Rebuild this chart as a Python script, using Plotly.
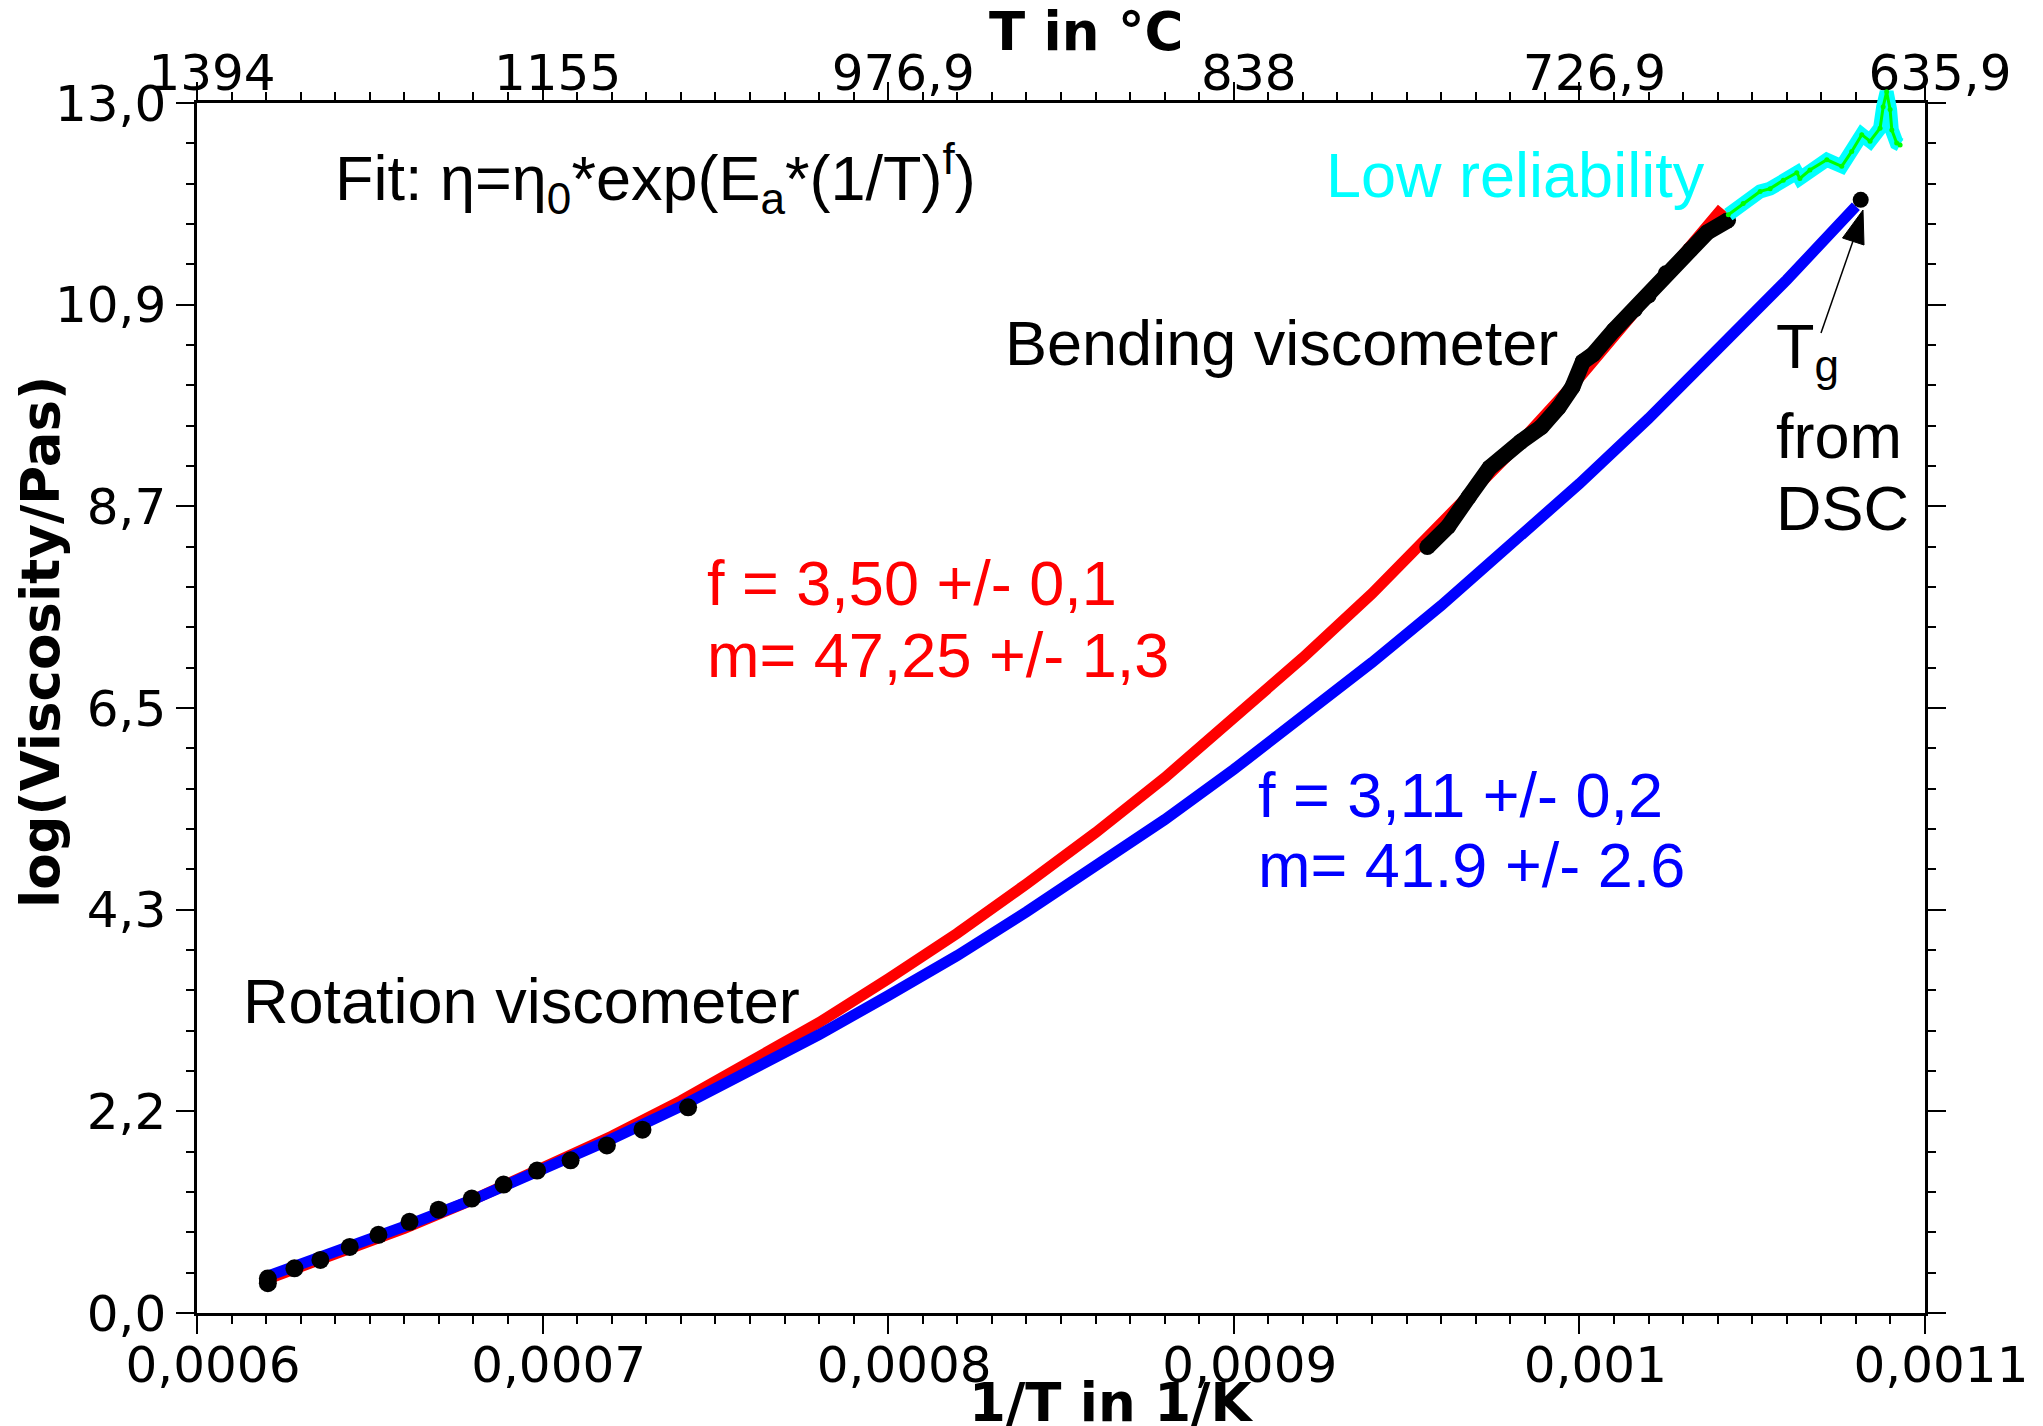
import plotly.graph_objects as go

# ---------------- data ----------------
# Fit curve (f = 3.50) on 1/T
red_x = [0.00062, 0.00064, 0.00066, 0.00068, 0.00070, 0.00072, 0.00074, 0.00076,
         0.00078, 0.00080, 0.00082, 0.00084, 0.00086, 0.00088, 0.00090, 0.00092,
         0.00094, 0.00096, 0.00098, 0.00100, 0.00102, 0.00104, 0.0010413]
red_y = [0.36, 0.63, 0.91, 1.22, 1.55, 1.90, 2.28, 2.69, 3.12, 3.59, 4.08, 4.61,
         5.16, 5.75, 6.38, 7.04, 7.73, 8.47, 9.24, 10.05, 10.91, 11.81, 11.87]

# Fit curve (f = 3.11) on 1/T
blue_x = [0.00062, 0.00064, 0.00066, 0.00068, 0.00070, 0.00072, 0.00074, 0.00076,
          0.00078, 0.00080, 0.00082, 0.00084, 0.00086, 0.00088, 0.00090, 0.00092,
          0.00094, 0.00096, 0.00098, 0.00100, 0.00102, 0.00104, 0.00106, 0.00108]
blue_y = [0.39, 0.65, 0.93, 1.22, 1.54, 1.87, 2.22, 2.59, 2.99, 3.41, 3.84, 4.31,
          4.79, 5.30, 5.84, 6.40, 6.99, 7.60, 8.24, 8.91, 9.61, 10.34, 11.10, 11.89]

# Bending viscometer measurement
bend_x = [0.000956, 0.000962, 0.000968, 0.000974, 0.000983, 0.000989, 0.000994,
          0.000998, 0.001001, 0.001004, 0.001010, 0.001016, 0.001020, 0.001025,
          0.001032, 0.001037, 0.001043]
bend_y = [8.23, 8.45, 8.77, 9.08, 9.36, 9.52, 9.73, 9.95, 10.22, 10.30, 10.56,
          10.78, 10.93, 11.17, 11.42, 11.61, 11.74]

# Continuation of the bending run with low reliability
low_x = [0.0010431, 0.0010474, 0.0010523, 0.0010552, 0.0010590, 0.0010629,
         0.0010638, 0.0010667, 0.0010716, 0.0010759, 0.0010788, 0.0010817,
         0.0010841, 0.0010870, 0.0010879, 0.0010889, 0.0010899, 0.0010904,
         0.0010918, 0.0010928]
low_y = [11.80, 11.92, 12.05, 12.08, 12.17, 12.25, 12.19, 12.28, 12.39, 12.32,
         12.48, 12.66, 12.59, 12.73, 12.96, 13.12, 12.93, 12.71, 12.57, 12.55]

# Rotation viscometer measurement
rot_x = [0.0006205, 0.0006205, 0.0006282, 0.0006357, 0.0006442, 0.0006525,
         0.0006615, 0.0006699, 0.0006795, 0.0006887, 0.0006984, 0.0007081,
         0.0007186, 0.0007289, 0.0007421]
rot_y = [0.37, 0.32, 0.48, 0.57, 0.71, 0.84, 0.98, 1.11, 1.23, 1.38, 1.53, 1.64,
         1.80, 1.97, 2.21]

# Glass transition from DSC
tg_x = [0.0010814]
tg_y = [11.96]

# Axis ticks
x_ticks = [0.0006, 0.0007, 0.0008, 0.0009, 0.0010, 0.0011]
x_labels = ["0,0006", "0,0007", "0,0008", "0,0009", "0,001", "0,0011"]
t_labels = ["1394", "1155", "976,9", "838", "726,9", "635,9"]
y_labels = ["0,0", "2,2", "4,3", "6,5", "8,7", "10,9", "13,0"]

# ---------------- geometry ----------------
W, H = 2043, 1426
PL, PR = 197, 1925          # frame left / right (px)
PB, FRAME_TOP = 1313, 103   # frame bottom / top (px)
PT = 83                     # paper top, leaves headroom for the noisy tail
Y_MAX = 13.0
y_dom_top = (PB - FRAME_TOP) / (PB - PT)

y_ticks = [i * Y_MAX / 6 for i in range(7)]
y_minor = [k * Y_MAX / 30 for k in range(31) if k % 5]
x_minor = [0.0006 + k * 0.00001 for k in range(51) if k % 10]


def px_x(px):
    return (px - PL) / (PR - PL)


def px_y(py):
    return (PB - py) / (PB - PT)


TICKFONT = dict(family="DejaVu Sans", size=50, color="black")
TITLEFONT = dict(family="DejaVu Sans", size=53, color="black", weight="bold")
NOTEFONT = "Liberation Sans"
NOTE_SIZE = 63

fig = go.Figure()

fig.add_trace(go.Scatter(x=red_x, y=red_y, mode="lines",
                         line=dict(color="#ff0000", width=11), hoverinfo="skip"))
fig.add_trace(go.Scatter(x=blue_x, y=blue_y, mode="lines",
                         line=dict(color="#0000ff", width=11), hoverinfo="skip"))
fig.add_trace(go.Scatter(x=low_x, y=low_y, mode="lines", yaxis="y3",
                         line=dict(color="#00ffff", width=14), hoverinfo="skip"))
fig.add_trace(go.Scatter(x=low_x, y=low_y, mode="lines+markers", yaxis="y3",
                         line=dict(color="#00ff00", width=3),
                         marker=dict(color="#00ff00", size=5), hoverinfo="skip"))
fig.add_trace(go.Scatter(x=bend_x, y=bend_y, mode="lines+markers",
                         line=dict(color="black", width=16),
                         marker=dict(color="black", size=16), hoverinfo="skip"))
fig.add_trace(go.Scatter(x=rot_x, y=rot_y, mode="markers",
                         marker=dict(color="black", size=18), hoverinfo="skip"))
fig.add_trace(go.Scatter(x=tg_x, y=tg_y, mode="markers",
                         marker=dict(color="black", size=16), hoverinfo="skip"))
# carrier for the temperature axis on top
fig.add_trace(go.Scatter(x=[], y=[], xaxis="x2", hoverinfo="skip"))


def note(text, px, base, color="black", size=NOTE_SIZE):
    return dict(text=text, x=px_x(px), y=px_y(base - 0.3465 * size),
                xref="paper", yref="paper", xanchor="left", yanchor="middle",
                showarrow=False,
                font=dict(family=NOTEFONT, size=size, color=color))


annotations = [
    note("Fit: η=η<sub>0</sub>*exp(E<sub>a</sub>*(1/T)<sup>f</sup>)", 333, 200),
    note("Low reliability", 1324, 197, color="#00ffff"),
    note("Bending viscometer", 1003, 365),
    note("Rotation viscometer", 241, 1023),
    note("f = 3,50 +/- 0,1", 705, 605, color="#ff0000"),
    note("m= 47,25 +/- 1,3", 705, 677, color="#ff0000"),
    note("f = 3,11 +/- 0,2", 1256, 817, color="#0000ff"),
    note("m= 41.9 +/- 2.6", 1256, 887, color="#0000ff"),
    note("T<sub>g</sub>", 1774, 372),
    note("from", 1774, 458),
    note("DSC", 1774, 530),
    dict(text="1/T in 1/K", x=px_x(1111), y=px_y(1402), xref="paper", yref="paper",
         xanchor="center", yanchor="middle", showarrow=False, font=TITLEFONT),
    dict(text="T in °C", x=px_x(1086), y=px_y(32), xref="paper", yref="paper",
         xanchor="center", yanchor="middle", showarrow=False, font=TITLEFONT),
    dict(text="log(Viscosity/Pas)", x=px_x(40), y=px_y(642), xref="paper", yref="paper",
         xanchor="center", yanchor="middle", showarrow=False, textangle=-90,
         font=TITLEFONT),
]

# pointer from the Tg label to the DSC point
tip = (1863, 210)
shapes = [
    dict(type="line", xref="paper", yref="paper",
         x0=px_x(1821), y0=px_y(333), x1=px_x(1853), y1=px_y(241),
         line=dict(color="black", width=1.5)),
    dict(type="path", xref="paper", yref="paper",
         path=f"M {px_x(tip[0])},{px_y(tip[1])} L {px_x(1842.5)},{px_y(238)} "
              f"L {px_x(1864)},{px_y(245)} Z",
         fillcolor="black", line=dict(color="black", width=1)),
]

axis_common = dict(showgrid=False, zeroline=False, showline=True, linecolor="black",
                   linewidth=2.5, ticks="outside", ticklen=18, tickwidth=2,
                   tickcolor="black", tickfont=TICKFONT)

fig.update_layout(
    width=W, height=H, autosize=False,
    margin=dict(l=PL, r=W - PR, t=PT, b=H - PB, pad=0),
    paper_bgcolor="white", plot_bgcolor="rgba(0,0,0,0)",
    showlegend=False,
    xaxis=dict(range=[0.0006, 0.0011], domain=[0, 1], anchor="y",
               tickmode="array", tickvals=x_ticks, ticktext=x_labels,
               minor=dict(tickmode="array", tickvals=x_minor, ticks="outside",
                          ticklen=8, tickwidth=2, tickcolor="black"),
               ticklabelshift=16, ticklabelstandoff=-12, **axis_common),
    xaxis2=dict(range=[0.0006, 0.0011], overlaying="x", side="top", anchor="y",
                tickmode="array", tickvals=x_ticks, ticktext=t_labels,
                minor=dict(tickmode="array", tickvals=x_minor, ticks="outside",
                           ticklen=8, tickwidth=2, tickcolor="black"),
                ticklabelshift=15, ticklabelstandoff=-28, **axis_common),
    yaxis=dict(range=[0, Y_MAX], domain=[0, y_dom_top], anchor="x",
               tickmode="array", tickvals=y_ticks, ticktext=y_labels,
               minor=dict(tickmode="array", tickvals=y_minor, ticks="outside",
                          ticklen=8, tickwidth=2, tickcolor="black"),
               mirror="ticks", **axis_common),
    yaxis3=dict(range=[0, Y_MAX / y_dom_top], domain=[0, 1], anchor="x",
                visible=False, showgrid=False, zeroline=False),
    annotations=annotations,
    shapes=shapes,
)

fig.write_html("out.html")
